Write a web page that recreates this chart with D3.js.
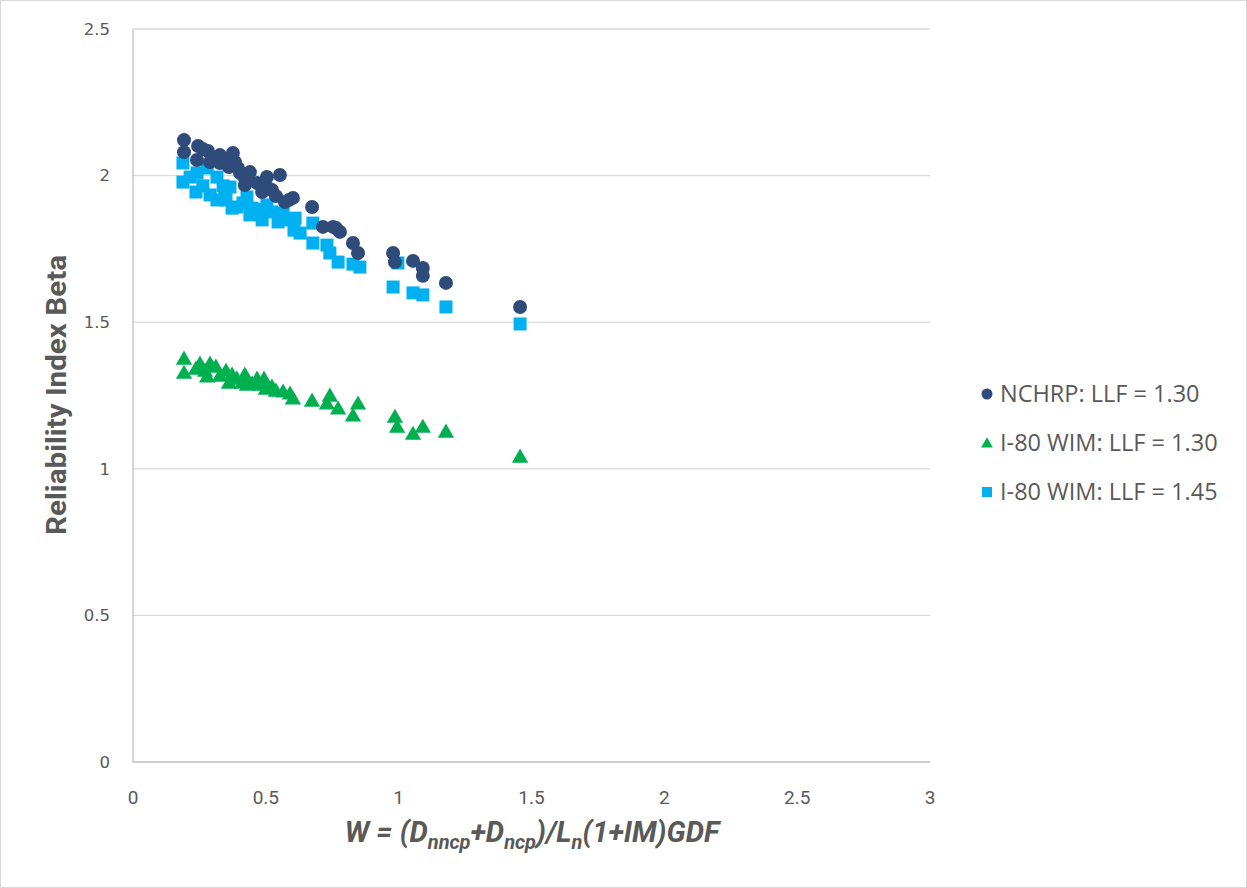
<!DOCTYPE html>
<html><head><meta charset="utf-8">
<script src="https://cdn.jsdelivr.net/npm/d3@7"></script>
<style>
body{margin:0;background:#fff;}
svg{display:block;}
</style></head>
<body>
<svg id="chart" width="1247" height="888"></svg>
<script>
// ---- data ----
const seriesNames = ["NCHRP: LLF = 1.30", "I-80 WIM: LLF = 1.30", "I-80 WIM: LLF = 1.45"];
const xTicks = [0, 0.5, 1, 1.5, 2, 2.5, 3];
const yTicks = [0, 0.5, 1, 1.5, 2, 2.5];

const nchrpX = [0.192,0.192,0.245,0.282,0.241,0.290,0.327,0.376,0.384,0.361,0.403,0.440,0.421,0.467,0.504,0.553,0.508,0.572,0.602,0.674,0.715,0.753,0.779,0.828,0.847,0.979,0.986,1.054,1.091,1.091,1.178,1.457,
                0.263,0.327,0.346,0.395,0.421,0.486,0.523,0.538,0.587,0.764];
const nchrpY = [2.121,2.080,2.101,2.084,2.053,2.046,2.043,2.077,2.046,2.029,2.009,2.012,1.968,1.975,1.995,2.002,1.958,1.910,1.924,1.893,1.825,1.825,1.808,1.770,1.736,1.736,1.705,1.709,1.685,1.658,1.634,1.552,
                2.091,2.070,2.053,2.026,1.992,1.944,1.951,1.930,1.917,1.821];

const wim130X = [0.192,0.192,0.252,0.290,0.312,0.279,0.350,0.373,0.361,0.421,0.429,0.467,0.493,0.500,0.565,0.591,0.602,0.674,0.741,0.730,0.772,0.847,0.828,0.986,0.994,1.054,1.091,1.178,1.457,
                 0.237,0.271,0.327,0.391,0.410,0.448,0.478,0.523,0.538];
const wim130Y = [1.371,1.323,1.354,1.354,1.344,1.310,1.330,1.317,1.289,1.317,1.282,1.303,1.303,1.269,1.259,1.252,1.235,1.228,1.245,1.218,1.201,1.218,1.177,1.173,1.139,1.115,1.139,1.122,1.037,
                 1.337,1.330,1.313,1.303,1.289,1.286,1.282,1.276,1.262];

const wim145X = [0.188,0.188,0.241,0.237,0.279,0.316,0.316,0.346,0.365,0.391,0.429,0.440,0.467,0.486,0.504,0.565,0.580,0.610,0.606,0.677,0.677,0.730,0.741,0.772,0.828,0.854,0.979,0.997,1.054,1.091,1.178,1.457,
                 0.215,0.263,0.290,0.339,0.350,0.373,0.414,0.448,0.486,0.523,0.546,0.629];
const wim145Y = [2.043,1.978,2.009,1.944,2.026,1.995,1.917,1.941,1.961,1.893,1.927,1.866,1.883,1.849,1.900,1.872,1.849,1.855,1.814,1.838,1.770,1.763,1.736,1.705,1.698,1.688,1.620,1.702,1.600,1.593,1.552,1.494,
                 1.995,1.965,1.934,1.965,1.917,1.889,1.907,1.889,1.883,1.876,1.842,1.804];

// ---- layout ----
const svg = d3.select("#chart");
const W = 1247, H = 888;
const mLeft = 133, mRight = 930, mTop = 29, mBottom = 762;
const x = d3.scaleLinear().domain([0,3]).range([mLeft,mRight]);
const y = d3.scaleLinear().domain([0,2.5]).range([mBottom,mTop]);

const colors = ["#2E4B7A", "#00B050", "#00B0F0"];
const textCol = "#595959";

// outer border
svg.append("rect").attr("x",0.5).attr("y",0.5).attr("width",W-1).attr("height",H-1)
  .attr("fill","#fff").attr("stroke","#D9D9D9");

// gridlines
svg.append("g").selectAll("line").data(yTicks.filter(d=>d>0)).join("line")
  .attr("x1",mLeft).attr("x2",mRight).attr("y1",d=>y(d)).attr("y2",d=>y(d))
  .attr("stroke","#D9D9D9").attr("stroke-width",1.3);

// axes lines
svg.append("line").attr("x1",mLeft).attr("x2",mLeft).attr("y1",mTop).attr("y2",mBottom)
  .attr("stroke","#BFBFBF").attr("stroke-width",1.3);
svg.append("line").attr("x1",mLeft).attr("x2",mRight).attr("y1",mBottom).attr("y2",mBottom)
  .attr("stroke","#BFBFBF").attr("stroke-width",1.3);

// y tick labels
svg.append("g").selectAll("text").data(yTicks).join("text")
  .attr("x",110).attr("y",d=>y(d)).attr("dy","0.35em")
  .attr("text-anchor","end")
  .attr("font-family","DejaVu Sans, Verdana, sans-serif").attr("font-size",16.5)
  .attr("fill",textCol).text(d=>d);

// x tick labels
svg.append("g").selectAll("text").data(xTicks).join("text")
  .attr("x",d=>x(d)).attr("y",797).attr("dy","0.35em")
  .attr("text-anchor","middle")
  .attr("font-family","Roboto, sans-serif").attr("font-size",19)
  .attr("fill",textCol).text(d=>d);

// axis titles
svg.append("text").attr("transform","translate(66,395) rotate(-90)")
  .attr("text-anchor","middle")
  .attr("font-family","Roboto, sans-serif").attr("font-weight","bold")
  .attr("font-size",27).attr("textLength",280).attr("lengthAdjust","spacingAndGlyphs")
  .attr("fill",textCol).text("Reliability Index Beta");

const xt = svg.append("text").attr("x",532).attr("y",842).attr("text-anchor","middle")
  .attr("font-family","Roboto, sans-serif").attr("font-weight","bold")
  .attr("font-style","italic").attr("font-size",29).attr("fill",textCol);
xt.append("tspan").text("W = (D");
xt.append("tspan").attr("font-size",20).attr("dy",7).text("nncp");
xt.append("tspan").attr("dy",-7).text("+D");
xt.append("tspan").attr("font-size",20).attr("dy",7).text("ncp");
xt.append("tspan").attr("dy",-7).text(")/L");
xt.append("tspan").attr("font-size",20).attr("dy",7).text("n");
xt.append("tspan").attr("dy",-7).text("(1+");
xt.append("tspan").text("IM");
xt.append("tspan").text(")GDF");

// markers
const tri = d3.symbol().type(d3.symbolTriangle).size(115);
const pts = (xs,ys)=>xs.map((v,i)=>({x:v,y:ys[i]}));

svg.append("g").selectAll("rect").data(pts(wim145X,wim145Y)).join("rect")
  .attr("x",d=>x(d.x)-6.5).attr("y",d=>y(d.y)-6.5).attr("width",13).attr("height",13)
  .attr("fill",colors[2]);

svg.append("g").selectAll("path").data(pts(wim130X,wim130Y)).join("path")
  .attr("d",tri).attr("transform",d=>`translate(${x(d.x)},${y(d.y)})`)
  .attr("fill",colors[1]);

svg.append("g").selectAll("circle").data(pts(nchrpX,nchrpY)).join("circle")
  .attr("cx",d=>x(d.x)).attr("cy",d=>y(d.y)).attr("r",7)
  .attr("fill",colors[0]);

// legend
const legY = [394, 443, 492];
const lg = svg.append("g");
lg.append("circle").attr("cx",987).attr("cy",legY[0]).attr("r",5.5).attr("fill",colors[0]);
lg.append("path").attr("d",d3.symbol().type(d3.symbolTriangle).size(60)).attr("transform",`translate(987,${legY[1]+1})`).attr("fill",colors[1]);
lg.append("rect").attr("x",982).attr("y",legY[2]-5).attr("width",10).attr("height",10).attr("fill",colors[2]);
lg.selectAll("text").data(seriesNames).join("text")
  .attr("x",1000).attr("y",(d,i)=>legY[i]).attr("dy","0.35em")
  .attr("font-family","Open Sans, Calibri, sans-serif").attr("font-size",23.5)
  .attr("fill",textCol).text(d=>d);
</script>
</body></html>
